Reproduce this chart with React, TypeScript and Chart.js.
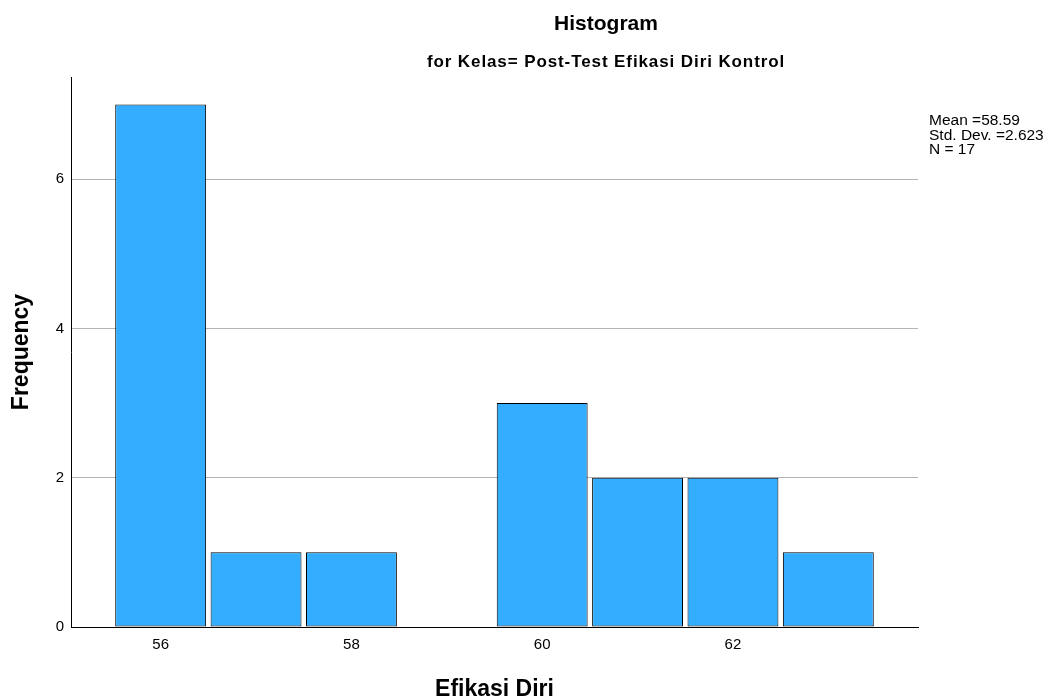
import React, { useEffect, useRef } from "react";
import { Chart, registerables } from "chart.js";

Chart.register(...registerables);

// ---- data ----
const binCenters = [56, 57, 58, 59, 60, 61, 62, 63];
const frequencies = [7, 1, 1, 0, 3, 2, 2, 1];
const xTickValues = [56, 58, 60, 62];
const yTickValues = [0, 2, 4, 6];
const titleText = "Histogram";
const subtitleText = "for Kelas= Post-Test Efikasi Diri Kontrol";
const xAxisTitle = "Efikasi Diri";
const yAxisTitle = "Frequency";
const statsLines = ["Mean =58.59", "Std. Dev. =2.623", "N = 17"];

const FONT = '"Liberation Sans", Arial, Helvetica, sans-serif';

const textPlugin = {
  id: "spssText",
  afterDraw(chart: any) {
    const ctx = chart.ctx as CanvasRenderingContext2D;
    const area = chart.chartArea;
    ctx.save();
    ctx.fillStyle = "#000";
    ctx.textBaseline = "alphabetic";
    ctx.textAlign = "center";
    // title
    ctx.font = `bold 21px ${FONT}`;
    ctx.fillText(titleText, 606, 30);
    // subtitle
    ctx.font = `bold 17px ${FONT}`;
    (ctx as any).letterSpacing = "0.9px";
    ctx.fillText(subtitleText, 606, 67);
    (ctx as any).letterSpacing = "0px";
    // x axis title
    ctx.font = `bold 23px ${FONT}`;
    ctx.fillText(xAxisTitle, (area.left + area.right) / 2, 696);
    // y axis title
    ctx.save();
    ctx.translate(28, 352);
    ctx.rotate(-Math.PI / 2);
    ctx.fillText(yAxisTitle, 0, 0);
    ctx.restore();
    // stats
    ctx.textAlign = "left";
    ctx.font = `15.5px ${FONT}`;
    statsLines.forEach((line, i) => {
      ctx.fillText(line, 929, 125 + i * 14.5);
    });
    ctx.restore();
  },
};

export default function App() {
  const canvasRef = useRef<HTMLCanvasElement | null>(null);

  useEffect(() => {
    const canvas = canvasRef.current;
    if (!canvas) return;
    const chart = new Chart(canvas, {
      type: "bar",
      data: {
        datasets: [
          {
            data: binCenters.map((x, i) => ({ x, y: frequencies[i] })),
            backgroundColor: "#33adff",
            borderColor: "#000000",
            borderWidth: 1,
            borderSkipped: false,
            barPercentage: 0.953,
            categoryPercentage: 1,
          } as any,
        ],
      },
      options: {
        responsive: false,
        animation: false,
        devicePixelRatio: 1,
        layout: { padding: { left: 0, right: 137, top: 77, bottom: 0 } },
        plugins: {
          legend: { display: false },
          tooltip: { enabled: false },
          title: { display: false },
        },
        scales: {
          x: {
            type: "linear",
            offset: false,
            min: 55.06,
            max: 63.94,
            afterBuildTicks: (s: any) => {
              s.ticks = xTickValues.map((v) => ({ value: v }));
            },
            afterFit: (s: any) => {
              s.height = 73;
            },
            ticks: {
              font: { family: FONT, size: 15 },
              color: "#000",
              padding: 9,
              autoSkip: false,
              maxRotation: 0,
            },
            grid: { display: false, drawTicks: false, offset: false },
            border: { display: true, color: "#000", width: 1 },
          },
          y: {
            min: 0,
            max: 7.37,
            afterBuildTicks: (s: any) => {
              s.ticks = yTickValues.map((v) => ({ value: v }));
            },
            afterFit: (s: any) => {
              s.width = 71;
            },
            ticks: {
              font: { family: FONT, size: 15 },
              color: "#000",
              padding: 7,
            },
            grid: {
              drawTicks: false,
              color: (c: any) => (c.tick && c.tick.value === 0 ? "rgba(0,0,0,0)" : "#b4b4b4"),
              lineWidth: 1,
            },
            border: { display: true, color: "#000", width: 1 },
          },
        },
      } as any,
      plugins: [textPlugin],
    });
    return () => chart.destroy();
  }, []);

  return (
    <div style={{ position: "absolute", left: 0, top: 0, width: 1055, height: 700, background: "#fff" }}>
      <canvas ref={canvasRef} width={1055} height={700} style={{ display: "block" }} />
    </div>
  );
}
